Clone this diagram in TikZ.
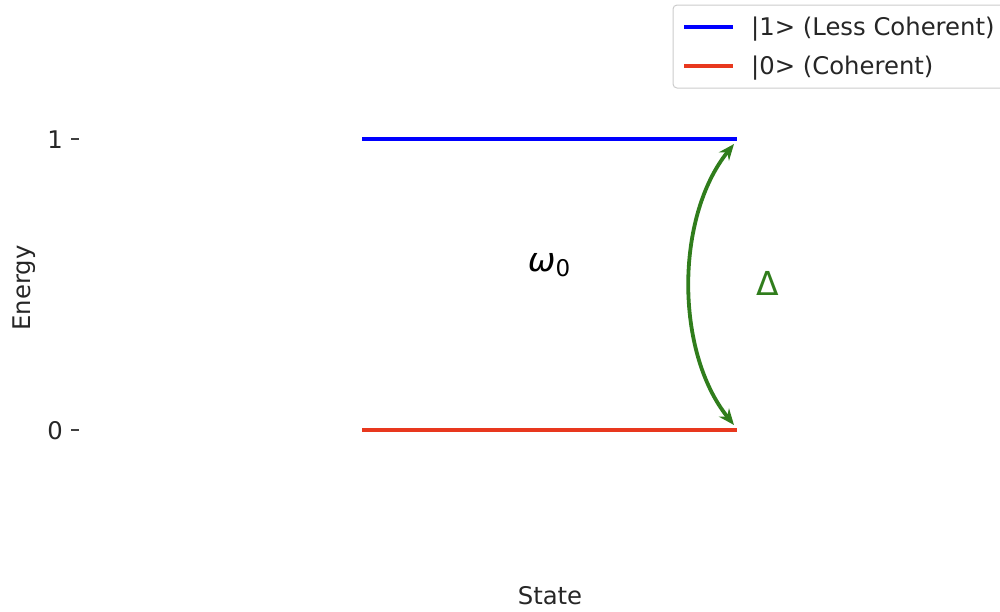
\documentclass[tikz,border=0pt]{standalone}
\usepackage{fontspec}
\setmainfont{DejaVu Sans}
\usetikzlibrary{arrows.meta}
\begin{document}
\begin{tikzpicture}[x=1pt,y=-1pt,
  lvl/.style={line width=3.2pt},
  lbl/.style={font=\fontsize{24.3}{28}\selectfont, text=black!85, inner sep=0pt},
  big/.style={font=\fontsize{33}{38}\selectfont, inner sep=0pt},
  tickmark/.style={line width=1.2pt, draw=black!75}]
\useasboundingbox (0,0) rectangle (1000,611);
\clip (0,0) rectangle (1000,611);
\definecolor{lvlblue}{RGB}{0,0,255}
\definecolor{lvlred}{RGB}{232,56,30}
\definecolor{arrgreen}{RGB}{48,125,28}
\definecolor{legframe}{RGB}{204,204,204}
% levels
\coordinate (b1) at (362,139); \coordinate (b2) at (737,139);
\coordinate (r1) at (362,430); \coordinate (r2) at (737,430);
\draw[lvl, lvlblue] (b1) -- (b2);
\draw[lvl, lvlred] (r1) -- (r2);
% ticks
\coordinate (t1a) at (71,139); \coordinate (t1b) at (79,139);
\coordinate (t0a) at (71,430); \coordinate (t0b) at (79,430);
\draw[tickmark] (t1a) -- (t1b);
\draw[tickmark] (t0a) -- (t0b);
\node[lbl] (tick1) at (55,140) {1};
\node[lbl] (tick0) at (55,431) {0};
\node[lbl, rotate=90] (ylab) at (24,288) {Energy};
\node[lbl] (xlab) at (550,596) {State};
% omega
\node[big, text=black] (omega) at (549,265) {{\itshape ω}\raisebox{-0.25ex}{\fontsize{23}{26}\selectfont 0}};
% arrow
\coordinate (atop) at (734,144);
\coordinate (abot) at (734,425);
\draw[line width=3.8pt, arrgreen, {Stealth[length=16pt,width=13pt]}-{Stealth[length=16pt,width=13pt]}]
  (abot) .. controls (675,352) and (675,217) .. (atop);
\node[big, text=arrgreen] (delta) at (768,283) {Δ};
% legend
\draw[legframe, line width=1pt, fill=white, rounded corners=4pt] (673,5) rectangle (1010,88);
\coordinate (l1a) at (684,27); \coordinate (l1b) at (733,27);
\coordinate (l2a) at (684,66); \coordinate (l2b) at (733,66);
\draw[lvl, lvlblue] (l1a) -- (l1b);
\draw[lvl, lvlred] (l2a) -- (l2b);
\node[lbl, anchor=west] (leg1) at (751,29) {|1> (Less Coherent)};
\node[lbl, anchor=west] (leg2) at (751,68) {|0> (Coherent)};
\end{tikzpicture}
\end{document}
